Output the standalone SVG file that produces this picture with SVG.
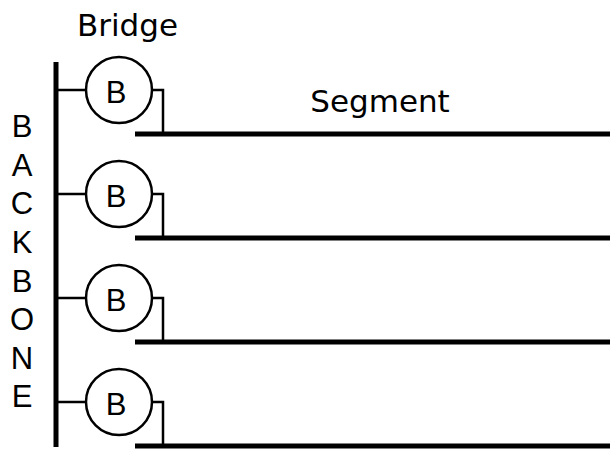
<svg xmlns="http://www.w3.org/2000/svg" width="610" height="449" viewBox="0 0 610 449">
<style>
.lbl{font-family:"DejaVu Sans",sans-serif;font-size:31px;fill:#000;text-anchor:middle}
.ltr{font-family:"Liberation Sans",Arial,sans-serif;font-size:31px;fill:#000;text-anchor:middle}
.bb{stroke:#000;stroke-width:5;fill:none}
.thin{stroke:#000;stroke-width:2.5;fill:none}
.circ{stroke:#000;stroke-width:2.5;fill:#fff}
</style>
<rect width="610" height="449" fill="#fff"/>
<g id="backbone">
<line class="bb" x1="56" y1="62" x2="56" y2="447"/>
<text class="ltr" x="22" y="137">B</text>
<text class="ltr" x="22" y="175.5">A</text>
<text class="ltr" x="22" y="214">C</text>
<text class="ltr" x="22" y="253">K</text>
<text class="ltr" x="22" y="291.5">B</text>
<text class="ltr" x="22" y="330">O</text>
<text class="ltr" x="22" y="368.5">N</text>
<text class="ltr" x="22" y="407">E</text>
</g>
<text class="lbl" x="127.5" y="36">Bridge</text>
<text class="lbl" x="380" y="112">Segment</text>
<g id="connectors">
<path class="thin" d="M56 90H86M152 90H163V134M56 194H86M152 194H163V238M56 298H86M152 298H163V342M56 402H86M152 402H163V446"/>
<line class="bb" x1="135" y1="134" x2="610" y2="134"/>
<line class="bb" x1="135" y1="238" x2="610" y2="238"/>
<line class="bb" x1="135" y1="342" x2="610" y2="342"/>
<line class="bb" x1="135" y1="446" x2="610" y2="446"/>
</g>
<g id="bridge1"><circle class="circ" cx="119" cy="90" r="33"/><text class="ltr" x="116" y="103">B</text></g>
<g id="bridge2"><circle class="circ" cx="119" cy="194" r="33"/><text class="ltr" x="116" y="207">B</text></g>
<g id="bridge3"><circle class="circ" cx="119" cy="298" r="33"/><text class="ltr" x="116" y="311">B</text></g>
<g id="bridge4"><circle class="circ" cx="119" cy="402" r="33"/><text class="ltr" x="116" y="415">B</text></g>
</svg>
